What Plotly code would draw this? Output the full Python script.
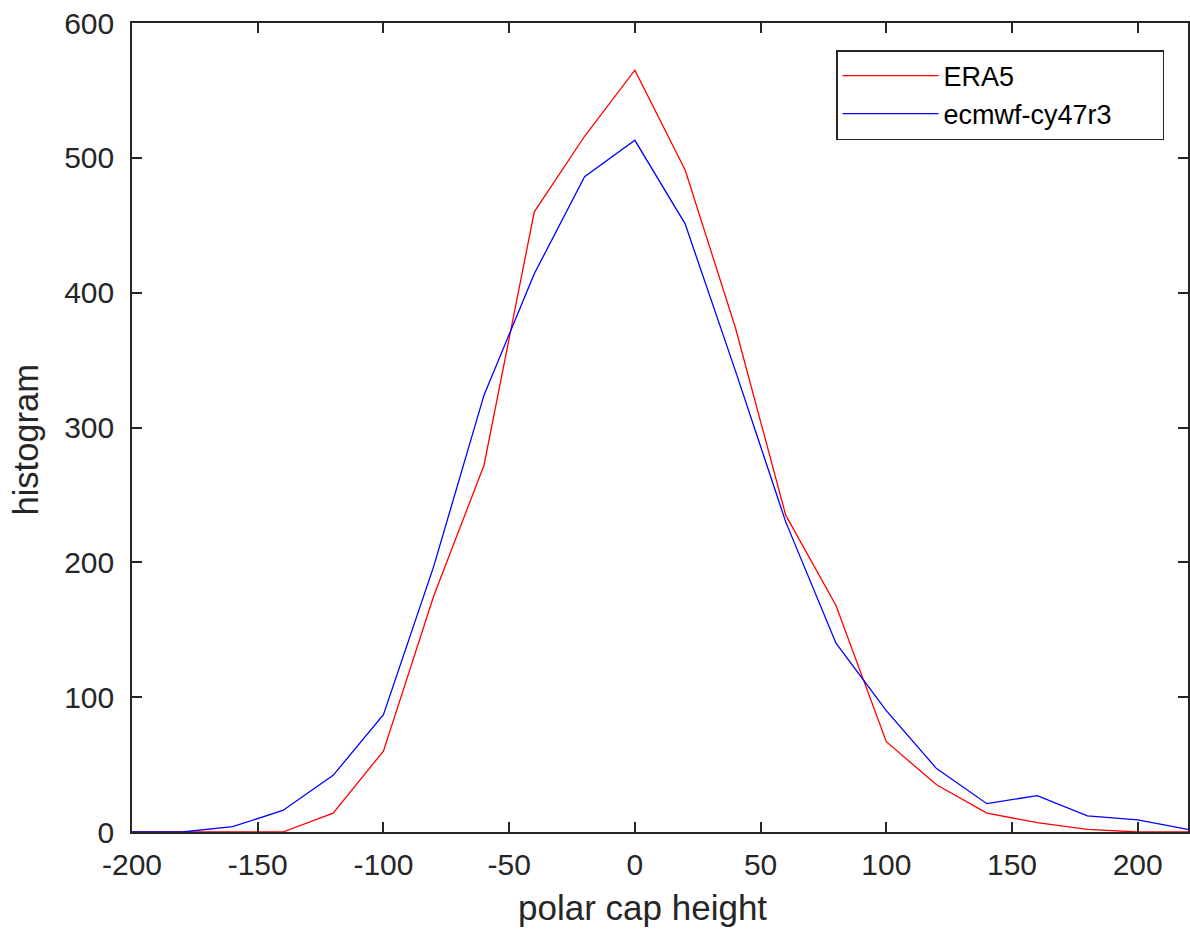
import plotly.graph_objects as go

x_values = [-200, -180, -160, -140, -120, -100, -80, -60, -40, -20, 0,
            20, 40, 60, 80, 100, 120, 140, 160, 180, 200, 220]
era5 = [0, 0, 0, 0, 14, 60, 175, 272, 460, 516, 565,
        491, 374, 235, 168, 67, 35, 14, 7, 2, 0, 0]
ecmwf = [0, 0, 4, 16, 42, 87, 197, 324, 414, 486, 513,
         451, 342, 230, 140, 90, 47, 21, 27, 12, 9, 2]
x_ticks = [-200, -150, -100, -50, 0, 50, 100, 150, 200]
x_tick_labels = ["-200", "-150", "-100", "-50", "0", "50", "100", "150", "200"]
y_ticks = [0, 100, 200, 300, 400, 500, 600]
x_title = "polar cap height"
y_title = "histogram"

FONT = "Liberation Sans, Arial, Helvetica, sans-serif"
AXC = "#262626"
NB = "\u00a0"

fig = go.Figure()
fig.add_trace(go.Scatter(x=x_values, y=era5, mode="lines", name="ERA5",
                         line=dict(color="#ff0000", width=1.3)))
fig.add_trace(go.Scatter(x=x_values, y=ecmwf, mode="lines", name="ecmwf-cy47r3" + NB * 6,
                         line=dict(color="#0000ff", width=1.3)))

axis_common = dict(
    showline=True, linecolor=AXC, linewidth=1.5, mirror="ticks",
    ticks="inside", ticklen=10, tickwidth=1.5, tickcolor=AXC,
    showgrid=False, zeroline=False,
    tickfont=dict(family=FONT, size=30, color=AXC),
)

fig.update_xaxes(range=[-200, 220], tickvals=x_ticks, ticktext=x_tick_labels,
                 ticklabelstandoff=5, **axis_common)
fig.update_yaxes(range=[0, 600], tickvals=y_ticks,
                 ticklabelstandoff=10, **axis_common)

fig.add_annotation(text=x_title, xref="paper", yref="paper", x=0.4839, y=0,
                   xanchor="center", yanchor="middle", yshift=-75, showarrow=False,
                   font=dict(family=FONT, size=35, color=AXC))
fig.add_annotation(text=y_title, xref="paper", yref="paper", x=0, y=0.5,
                   xanchor="center", yanchor="middle", xshift=-107, yshift=-13,
                   textangle=-90, showarrow=False,
                   font=dict(family=FONT, size=34.5, color=AXC))

fig.update_layout(
    width=1190, height=929,
    margin=dict(l=132, r=0, t=23, b=97),
    paper_bgcolor="white", plot_bgcolor="white",
    font=dict(family=FONT, color=AXC),
    showlegend=True,
    legend=dict(x=0.9773, y=0.9666, xanchor="right", yanchor="top",
                bordercolor=AXC, borderwidth=1.5, bgcolor="white",
                font=dict(family=FONT, size=27, color="#000000"),
                itemwidth=96, tracegroupgap=0),
)

fig.write_html("out.html", config={"displayModeBar": False},
               post_script="document.body.style.margin='0';document.body.style.overflow='hidden';")
